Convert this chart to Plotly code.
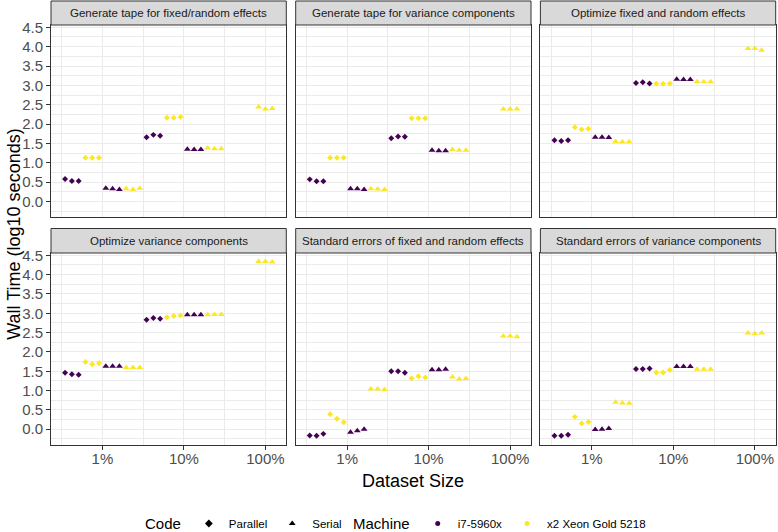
import plotly.graph_objects as go

# ---------------- data ----------------
PANELS = [
    "Generate tape for fixed/random effects",
    "Generate tape for variance components",
    "Optimize fixed and random effects",
    "Optimize variance components",
    "Standard errors of fixed and random effects",
    "Standard errors of variance components",
]

SIZES = [1, 10]          # dataset size (%) for the four dodged series
SIZE_FULL = 100          # only the Xeon serial run exists at 100%
REPS = 3

# log10 seconds; per panel: 3 replicates at 1%, then 3 replicates at 10%
PAR_I7 = [
    [0.58, 0.53, 0.53, 1.66, 1.72, 1.70],
    [0.57, 0.52, 0.52, 1.63, 1.68, 1.67],
    [1.58, 1.56, 1.58, 3.06, 3.08, 3.05],
    [1.46, 1.42, 1.41, 2.83, 2.88, 2.86],
    [-0.16, -0.17, -0.12, 1.50, 1.50, 1.46],
    [-0.17, -0.17, -0.14, 1.56, 1.56, 1.57],
]
PAR_XEON = [
    [1.13, 1.13, 1.13, 2.16, 2.16, 2.18],
    [1.13, 1.13, 1.13, 2.15, 2.15, 2.15],
    [1.92, 1.86, 1.88, 3.04, 3.04, 3.05],
    [1.74, 1.68, 1.71, 2.90, 2.93, 2.94],
    [0.39, 0.27, 0.18, 1.32, 1.37, 1.34],
    [0.32, 0.15, 0.19, 1.47, 1.47, 1.53],
]
SER_I7 = [
    [0.34, 0.33, 0.31, 1.35, 1.34, 1.34],
    [0.33, 0.33, 0.31, 1.32, 1.31, 1.31],
    [1.66, 1.66, 1.65, 3.16, 3.15, 3.15],
    [1.63, 1.63, 1.63, 2.96, 2.96, 2.96],
    [-0.08, -0.04, 0.00, 1.54, 1.54, 1.55],
    [-0.01, 0.00, 0.02, 1.62, 1.62, 1.62],
]
SER_XEON = [
    [0.33, 0.31, 0.34, 1.38, 1.36, 1.36],
    [0.33, 0.32, 0.31, 1.34, 1.32, 1.32],
    [1.55, 1.54, 1.54, 3.09, 3.09, 3.09],
    [1.60, 1.60, 1.60, 2.96, 2.97, 2.97],
    [1.04, 1.04, 1.03, 1.35, 1.30, 1.31],
    [0.70, 0.68, 0.67, 1.55, 1.55, 1.55],
]
SER_XEON_FULL = [
    [2.44, 2.39, 2.40],
    [2.39, 2.39, 2.39],
    [3.95, 3.95, 3.91],
    [4.34, 4.34, 4.33],
    [2.41, 2.41, 2.39],
    [2.49, 2.47, 2.49],
]

X_TICKS = [1, 10, 100]
X_TICKTEXT = ["1%", "10%", "100%"]
Y_TICKS = [0.0, 0.5, 1.0, 1.5, 2.0, 2.5, 3.0, 3.5, 4.0, 4.5]

# ---------------- styling ----------------
W, H = 778, 532
C_I7 = "#440154"
C_XEON = "#FDE725"
FONT = "Liberation Sans, Arial, sans-serif"
DODGE = 1.0          # total dodge width in decades
N_SLOTS = 12         # 4 series x 3 replicates
SLOT = DODGE / N_SLOTS

COLS_PX = [(51.0, 286.3), (295.7, 531.0), (540.4, 775.7)]
ROWS_PX = [(25.0, 216.7), (253.0, 444.5)]
STRIPS_PX = [(1.0, 25.0), (228.5, 253.0)]


def fx(px):
    return px / W


def fy(px):
    return 1 - px / H


SERIES = [
    ("Parallel", "i7-5960x", PAR_I7, C_I7, "diamond", 4.6),
    ("Parallel", "x2 Xeon Gold 5218", PAR_XEON, C_XEON, "diamond", 4.6),
    ("Serial", "i7-5960x", SER_I7, C_I7, "triangle-up", 6),
    ("Serial", "x2 Xeon Gold 5218", SER_XEON, C_XEON, "triangle-up", 6),
]

fig = go.Figure()
layout_axes = {}
shapes = []
annotations = []

for p, title in enumerate(PANELS):
    row, col = divmod(p, 3)
    n = "" if p == 0 else str(p + 1)
    xa, ya = "x" + n, "y" + n

    for g, (code, mach, arr, color, sym, msize) in enumerate(SERIES):
        xs, ys = [], []
        for si, size in enumerate(SIZES):
            for r in range(REPS):
                slot = g * REPS + r
                off = (slot - (N_SLOTS - 1) / 2) * SLOT
                xs.append(size * 10 ** off)
                ys.append(arr[p][si * REPS + r])
        fig.add_trace(go.Scatter(
            x=xs, y=ys, xaxis=xa, yaxis=ya, mode="markers",
            marker=dict(symbol=sym, size=msize, color=color, line=dict(width=0)),
            showlegend=False, hoverinfo="x+y"))
    # 100% group: only serial Xeon, centred on its size
    xs = [SIZE_FULL * 10 ** ((r - (REPS - 1) / 2) * SLOT) for r in range(REPS)]
    fig.add_trace(go.Scatter(
        x=xs, y=SER_XEON_FULL[p], xaxis=xa, yaxis=ya, mode="markers",
        marker=dict(symbol="triangle-up", size=6, color=C_XEON, line=dict(width=0)),
        showlegend=False))

    c0, c1 = COLS_PX[col]
    r0, r1 = ROWS_PX[row]
    s0, s1 = STRIPS_PX[row]
    bottom = row == 1
    left = col == 0
    layout_axes["xaxis" + n] = dict(
        type="log", range=[-0.631, 2.256], domain=[fx(c0), fx(c1)], anchor=ya,
        showline=True, mirror=True, linecolor="#333333", linewidth=1,
        showgrid=True, gridcolor="#EBEBEB", gridwidth=1.1, zeroline=False,
        tickmode="array", tickvals=X_TICKS, ticktext=X_TICKTEXT,
        ticks="outside" if bottom else "", ticklen=4, tickcolor="#333333", tickwidth=1,
        showticklabels=bottom, tickfont=dict(size=15, color="#4D4D4D", family=FONT),
        ticklabelstandoff=-4,
        minor=dict(tickmode="array", tickvals=[10 ** -0.5, 10 ** 0.5, 10 ** 1.5],
                   showgrid=True, gridcolor="#EBEBEB", gridwidth=0.6, ticks=""),
    )
    layout_axes["yaxis" + n] = dict(
        range=[-0.395, 4.56], domain=[fy(r1), fy(r0)], anchor=xa,
        showline=True, mirror=True, linecolor="#333333", linewidth=1,
        showgrid=True, gridcolor="#EBEBEB", gridwidth=1.1, zeroline=False,
        tickmode="array", tickvals=Y_TICKS, tickformat=".1f",
        ticks="outside" if left else "", ticklen=4, tickcolor="#333333", tickwidth=1,
        showticklabels=left, tickfont=dict(size=15, color="#4D4D4D", family=FONT),
        minor=dict(dtick=0.25, tick0=0, showgrid=True, gridcolor="#EBEBEB",
                   gridwidth=0.6, ticks=""),
    )
    shapes.append(dict(type="rect", xref="paper", yref="paper",
                       x0=fx(c0), x1=fx(c1), y0=fy(s1), y1=fy(s0),
                       fillcolor="#D9D9D9", line=dict(color="#333333", width=1)))
    annotations.append(dict(text=title, xref="paper", yref="paper",
                            x=fx((c0 + c1) / 2), y=fy((s0 + s1) / 2),
                            xanchor="center", yanchor="middle", showarrow=False,
                            font=dict(size=11.5, color="#1A1A1A", family=FONT)))

# axis titles
annotations.append(dict(text="Dataset Size", xref="paper", yref="paper",
                        x=fx((COLS_PX[0][0] + COLS_PX[2][1]) / 2), y=fy(481),
                        xanchor="center", yanchor="middle", showarrow=False,
                        font=dict(size=18, color="black", family=FONT)))
annotations.append(dict(text="Wall Time (log10 seconds)", xref="paper", yref="paper",
                        x=fx(14), y=fy((ROWS_PX[0][0] + ROWS_PX[1][1]) / 2),
                        xanchor="center", yanchor="middle", showarrow=False, textangle=-90,
                        font=dict(size=18, color="black", family=FONT)))

# legend-only entries
for code, sym in [("Parallel", "diamond"), ("Serial", "triangle-up")]:
    fig.add_trace(go.Scatter(x=[None], y=[None], mode="markers", name=code,
                             marker=dict(symbol=sym, size=6, color="black"),
                             legend="legend", showlegend=True))
for mach, color in [("i7-5960x", C_I7), ("x2 Xeon Gold 5218", C_XEON)]:
    fig.add_trace(go.Scatter(x=[None], y=[None], mode="markers", name=mach,
                             marker=dict(symbol="circle", size=5, color=color),
                             legend="legend2", showlegend=True))

fig.update_layout(
    width=W, height=H, margin=dict(l=0, r=0, t=0, b=0, autoexpand=False),
    paper_bgcolor="white", plot_bgcolor="white",
    font=dict(family=FONT),
    shapes=shapes, annotations=annotations,
    legend=dict(orientation="h", x=fx(143), xanchor="left", y=fy(524), yanchor="middle",
                title=dict(text="Code", font=dict(size=15, color="black"), side="left"),
                font=dict(size=11.5, color="black"), bgcolor="rgba(0,0,0,0)",
                itemwidth=30),
    legend2=dict(orientation="h", x=fx(351), xanchor="left", y=fy(524), yanchor="middle",
                 title=dict(text="Machine", font=dict(size=15, color="black"), side="left"),
                 font=dict(size=11.5, color="black"), bgcolor="rgba(0,0,0,0)",
                 itemwidth=30),
    **layout_axes,
)

fig.write_html("out.html", config={"displayModeBar": False},
               post_script="document.body.style.margin='0';document.body.style.overflow='hidden';")
